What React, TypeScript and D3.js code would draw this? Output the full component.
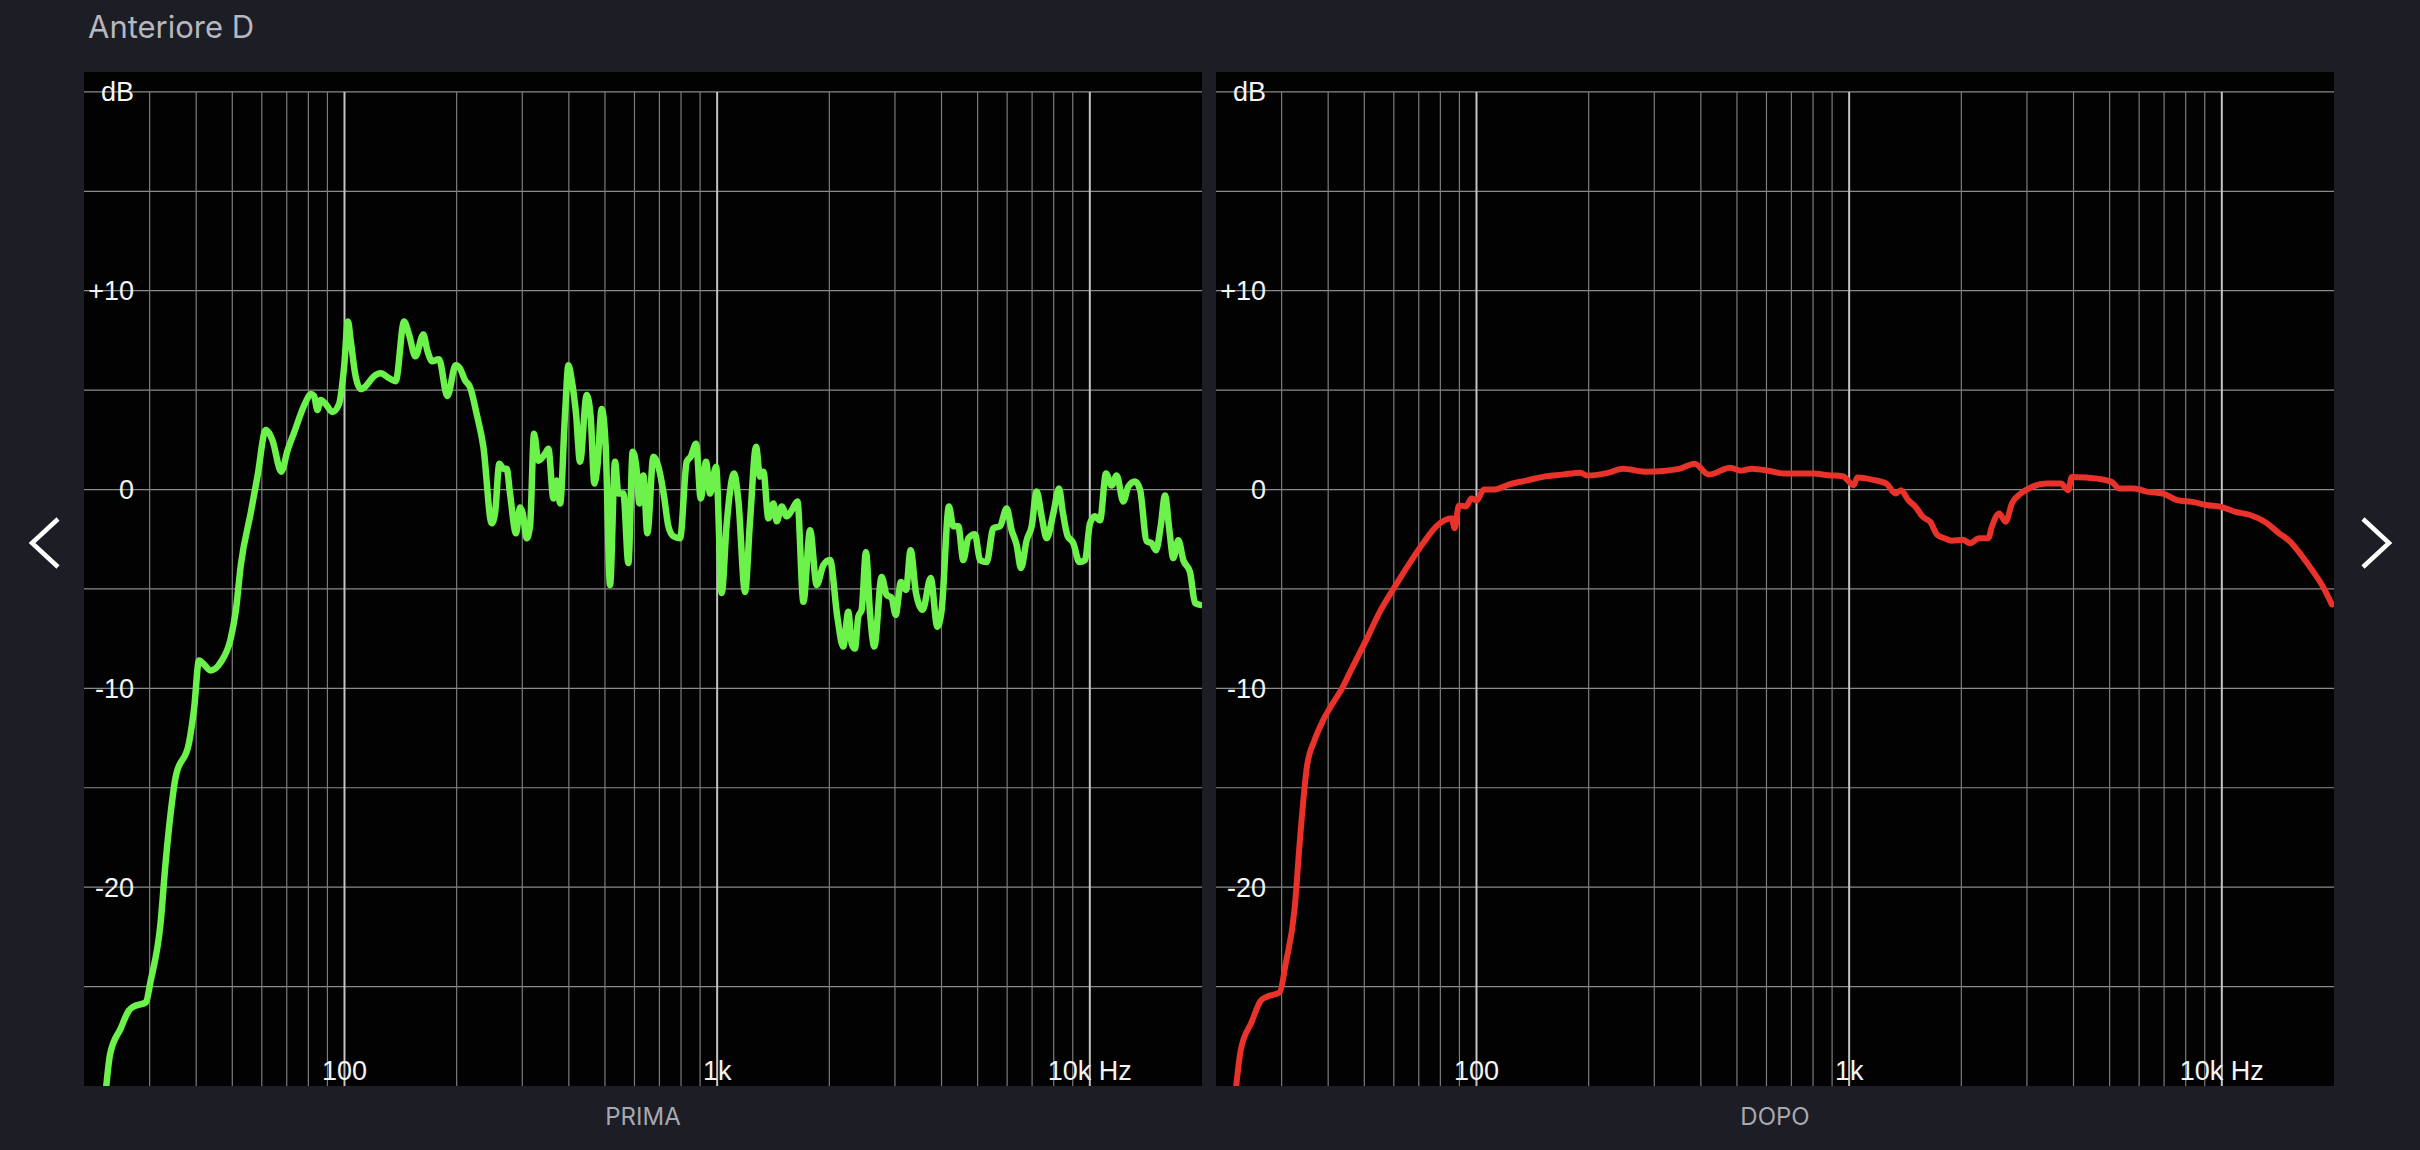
import React from 'react';
import * as d3 from 'd3';

// frequency (Hz), level (dB)
const prima: [number, number][] = [
  [22.9, -30.2], [23.5, -28.4], [25.1, -27.1], [26.4, -26.2], [27.2, -26.0], [29.3, -25.8], [30.2, -24.7],
  [32.1, -21.8], [33.1, -18.8], [34.2, -16.2], [35.2, -14.5], [38.3, -12.7], [39.5, -11.0], [40.7, -8.6],
  [42.0, -8.8], [43.7, -9.1], [46.5, -8.7], [49.5, -7.5], [51.1, -6.1], [52.7, -3.8], [56.0, -1.2],
  [58.4, 0.65], [61.5, 3.0], [64.0, 2.5], [67.7, 0.9], [70.3, 1.95], [73.2, 2.85], [78.7, 4.4], [81.2, 4.8],
  [82.9, 4.7], [84.6, 4.0], [86.3, 4.5], [89.0, 4.3], [92.8, 3.9], [96.7, 4.3], [99.7, 6.1], [102.2, 8.45],
  [103.9, 7.5], [107.1, 5.7], [110.5, 5.05], [114, 5.2], [120, 5.7], [125, 5.85], [131.7, 5.6], [137.2, 5.45],
  [144.5, 8.45], [149, 7.8], [155, 6.7], [162.8, 7.8], [166.8, 7.0], [172, 6.45], [179.3, 6.55], [188.8, 4.7],
  [198.8, 6.25], [204, 6.1], [210.6, 5.5], [217.2, 5.15], [226.3, 3.8], [235.9, 2.15], [248.3, -1.7],
  [253.5, -1.2], [260.3, 1.3], [266.9, 1.05], [272.4, 1.05], [278.1, -0.2], [288.6, -2.2], [295.8, -0.9],
  [300.8, -1.2], [308.3, -2.45], [314.7, -1.85], [322.6, 2.8], [331.3, 1.45], [345.3, 1.8], [352.5, 2.05],
  [363.6, -0.45], [371.1, 0.45], [378.9, -0.7], [390.7, 3.8], [398.9, 6.25], [407.2, 5.5], [418.2, 3.8],
  [428.6, 1.4], [446.6, 4.75], [457.8, 3.65], [468.3, 0.3], [477.1, 1.15], [490, 4.05], [502.3, 2.15],
  [515.9, -4.8], [532.1, 1.4], [543.2, -0.2], [560.3, -0.2], [577.8, -3.7], [593.5, 1.9], [608.4, 0.95],
  [618.5, -0.7], [634, 0.7], [649.8, -2.2], [674.3, 1.65], [702.7, 0.8], [720.3, -0.35], [739.8, -1.85],
  [763, -2.35], [795.2, -2.45], [828.6, 1.4], [849.3, 1.65], [877.8, 2.3], [903.5, -0.45], [933.8, 1.4],
  [957.1, -0.2], [993.3, 1.15], [1028.7, -5.2], [1061, -1.7], [1110, 0.8], [1140, -0.55], [1188, -5.15],
  [1225.6, -1.55], [1271.9, 2.15], [1303.6, 0.65], [1330.8, 0.9], [1372.6, -1.45], [1415.7, -0.7],
  [1445, -1.6], [1490.5, -0.85], [1537.3, -1.35], [1585.5, -1.05], [1642, -0.6], [1703.8, -5.65],
  [1775.4, -2.05], [1850, -4.8], [1927.8, -3.8], [2008.6, -3.55], [2101, -6.4], [2180, -7.9], [2249, -6.15],
  [2296, -7.75], [2343, -8.0], [2392, -6.4], [2442, -6.05], [2508, -3.15], [2571, -6.2], [2641, -7.9],
  [2763, -4.4], [2850, -5.3], [2939, -5.45], [3013, -6.3], [3114, -4.65], [3211, -5.05], [3305, -3.05],
  [3416, -5.2], [3560, -6.05], [3741, -4.45], [3898, -6.9], [4004, -6.05], [4188, -0.85], [4302, -1.85],
  [4437, -1.85], [4577, -3.55], [4720, -2.45], [4919, -2.25], [5073, -3.55], [5287, -3.65], [5509, -1.95],
  [5741, -1.85], [5982, -0.95], [6170, -2.05], [6364, -2.8], [6536, -3.95], [6770, -2.55], [6981, -1.85],
  [7200, -0.1], [7426, -1.35], [7660, -2.45], [7981, -1.2], [8266, 0.05], [8456, -1.1], [8703, -2.3],
  [9032, -2.7], [9373, -3.65], [9707, -3.55], [10012, -1.7], [10326, -1.35], [10650, -1.55], [11052, 0.8],
  [11445, 0.2], [11805, 0.7], [12301, -0.6], [12688, 0.15], [13222, 0.4], [13636, 0], [14210, -2.6],
  [14657, -2.7], [15055, -3.05], [15495, -1.85], [15916, -0.3], [16348, -2.05], [16754, -3.45],
  [17279, -2.55], [17822, -3.55], [18573, -4.15], [19153, -5.7], [19752, -5.8],
];

const dopo: [number, number][] = [
  [22.6, -30.2], [23.3, -28.2], [24.9, -26.8], [26.4, -25.7], [27.5, -25.5], [29.6, -25.3], [30.8, -23.8],
  [32.5, -21.1], [33.6, -17.6], [35.1, -13.9], [36.7, -12.65], [38.8, -11.6], [41.0, -10.8], [43.3, -10.1],
  [46.3, -9.0], [50.5, -7.6], [55.2, -6.1], [60.3, -4.9], [65.9, -3.75], [71.9, -2.7], [78.6, -1.8],
  [85.8, -1.45], [87.4, -1.95], [89.7, -0.8], [93.7, -0.85], [96.9, -0.45], [100.1, -0.55], [104.7, 0],
  [111.8, 0], [122, 0.25], [136, 0.45], [152, 0.65], [170, 0.75], [190, 0.85], [198, 0.7], [227, 0.85],
  [247, 1.05], [283, 0.9], [323, 0.95], [352, 1.05], [385, 1.3], [420, 0.75], [480, 1.1], [513, 0.95],
  [548, 1.05], [613, 0.93], [671, 0.8], [734, 0.8], [803, 0.8], [878, 0.72], [961, 0.67], [1028, 0.22],
  [1052, 0.6], [1151, 0.5], [1259, 0.3], [1332, -0.2], [1377, -0.03], [1441, -0.53], [1507, -0.87],
  [1576, -1.37], [1649, -1.62], [1724, -2.28], [1803, -2.45], [1886, -2.57], [2018, -2.53], [2110, -2.7],
  [2232, -2.45], [2362, -2.45], [2415, -1.87], [2527, -1.2], [2631, -1.62], [2733, -0.7], [2890, -0.2],
  [3092, 0.13], [3382, 0.3], [3700, 0.3], [3871, -0.03], [3959, 0.63], [4332, 0.6], [4633, 0.55],
  [5069, 0.38], [5302, 0.05], [5800, 0.05], [6347, -0.12], [6943, -0.2], [7594, -0.53], [8310, -0.62],
  [9090, -0.78], [9950, -0.87], [10890, -1.12], [11910, -1.28], [13030, -1.62], [14250, -2.2],
  [15250, -2.62], [16310, -3.28], [17440, -4.03], [18660, -4.87], [19740, -5.78],
];

const dbGrid = [20, 15, 10, 5, 0, -5, -10, -15, -20, -25];
const dbLabels: [number, string][] = [[20, 'dB'], [10, '+10'], [0, '0'], [-10, '-10'], [-20, '-20']];
const freqGrid = [30, 40, 50, 60, 70, 80, 90, 100, 200, 300, 400, 500, 600, 700, 800, 900,
  1000, 2000, 3000, 4000, 5000, 6000, 7000, 8000, 9000, 10000];
const decades = [100, 1000, 10000];
const freqLabels: [number, string][] = [[100, '100'], [1000, '1k'], [10000, '10k Hz']];

const W = 2420;
const H = 1150;
const top = 72;
const bottom = 1086;
const labelFont = '"Liberation Sans", Arial, sans-serif';

const panels = [
  { id: 'prima', x0: 84, x1: 1202, data: prima, color: '#6cf24b', width: 6.5, title: 'PRIMA' },
  { id: 'dopo', x0: 1216, x1: 2334, data: dopo, color: '#e8322a', width: 6, title: 'DOPO' },
];

function Panel({ p }: { p: typeof panels[number] }) {
  const x = d3.scaleLog().domain([20, 20000]).range([p.x0, p.x1]);
  const y = d3.scaleLinear().domain([-30, 21]).range([bottom, top]);
  const line = d3.line<[number, number]>()
    .x(d => x(d[0]))
    .y(d => y(d[1]))
    .curve(d3.curveMonotoneX);

  return (
    <g>
      <defs>
        <clipPath id={`clip-${p.id}`}>
          <rect x={p.x0} y={top} width={p.x1 - p.x0} height={bottom - top} />
        </clipPath>
      </defs>
      <rect x={p.x0} y={top} width={p.x1 - p.x0} height={bottom - top} fill="#020202" />
      {dbGrid.map(v => (
        <line key={'h' + v} x1={p.x0} x2={p.x1} y1={y(v)} y2={y(v)} stroke="#8a8a8a" strokeWidth={1.2} />
      ))}
      {freqGrid.map(f => {
        const major = decades.includes(f);
        return (
          <line key={'v' + f} x1={x(f)} x2={x(f)} y1={y(20)} y2={bottom}
            stroke={major ? '#c4c4c4' : '#7c7c7c'} strokeWidth={major ? 2 : 1.2} />
        );
      })}
      <path d={line(p.data) ?? ''} fill="none" stroke={p.color} strokeWidth={p.width}
        strokeLinejoin="round" strokeLinecap="round" clipPath={`url(#clip-${p.id})`} />
      {dbLabels.map(([v, t]) => (
        <text key={'l' + v} x={p.x0 + 50} y={y(v)} dy="0.35em" textAnchor="end"
          fill="#f4f4f4" fontSize={27} fontFamily={labelFont}>{t}</text>
      ))}
      {freqLabels.map(([f, t]) => (
        <text key={'f' + f} x={x(f)} y={1080} textAnchor="middle"
          fill="#f4f4f4" fontSize={27} fontFamily={labelFont}>{t}</text>
      ))}
      <text x={(p.x0 + p.x1) / 2} y={1125} textAnchor="middle" fill="#a7a8b0"
        fontSize={24} fontFamily="Inter, sans-serif">{p.title}</text>
    </g>
  );
}

export default function App() {
  return (
    <svg width={W} height={H} style={{ position: 'absolute', left: 0, top: 0, display: 'block' }}>
      <rect width={W} height={H} fill="#1c1d25" />
      <text x={88} y={38} fill="#b6b7bf" fontSize={31} fontFamily="Inter, sans-serif">Anteriore D</text>
      {panels.map(p => <Panel key={p.id} p={p} />)}
      <polyline points="58,519 32,543 58,567" fill="none" stroke="#ffffff" strokeWidth={4.5} />
      <polyline points="2363,519 2389,543 2363,567" fill="none" stroke="#ffffff" strokeWidth={4.5} />
    </svg>
  );
}
